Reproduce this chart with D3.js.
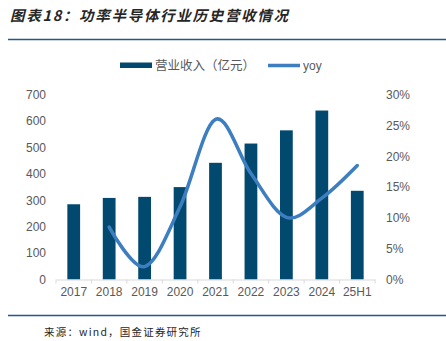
<!DOCTYPE html>
<html>
<head>
<meta charset="utf-8">
<script src="https://cdn.jsdelivr.net/npm/d3@7"></script>
<style>
  html, body { margin: 0; padding: 0; background: #fff; }
  svg { display: block; }
</style>
</head>
<body>
<svg id="chart" width="446" height="341"></svg>
<script>
// Power semiconductor industry revenue (亿元) and YoY growth
const years = ["2017", "2018", "2019", "2020", "2021", "2022", "2023", "2024", "25H1"];
const revenue = [285, 309, 313, 350, 442, 515, 565, 640, 336];
const yoyYears = ["2018", "2019", "2020", "2021", "2022", "2023", "2024", "25H1"];
const yoy = [0.085, 0.021, 0.118, 0.260, 0.172, 0.101, 0.132, 0.185];
const leftTicks = [0, 100, 200, 300, 400, 500, 600, 700];
const rightTicks = [0, 0.05, 0.10, 0.15, 0.20, 0.25, 0.30];

const svg = d3.select("#chart");
const barColor = "#02496f";
const lineColor = "#3d7ec1";
const textColor = "#595959";
const font = "'Liberation Sans', Arial, sans-serif";
const cjk = "'Noto Sans CJK SC', sans-serif";

// Title
svg.append("text")
  .attr("x", 10).attr("y", 21)
  .attr("font-family", cjk)
  .attr("font-size", 14.5)
  .attr("font-weight", "bold")
  .attr("font-style", "italic")
  .attr("letter-spacing", 1.7)
  .attr("fill", "#262626")
  .text("图表18：功率半导体行业历史营收情况");

// Rules above and below the chart
svg.append("line").attr("x1", 8).attr("x2", 446).attr("y1", 39.5).attr("y2", 39.5)
  .attr("stroke", "#1f5a86").attr("stroke-width", 1.5);
svg.append("line").attr("x1", 8).attr("x2", 446).attr("y1", 315.5).attr("y2", 315.5)
  .attr("stroke", "#1f5a86").attr("stroke-width", 1.5);

// Source note
svg.append("text")
  .attr("x", 44).attr("y", 335.5)
  .attr("font-family", cjk)
  .attr("font-size", 10.5)
  .attr("letter-spacing", 1.2)
  .attr("fill", "#262626")
  .text("来源：wind，国金证券研究所");

// Scales
const x = d3.scaleBand().domain(years).range([56, 375]).padding(0);
const yL = d3.scaleLinear().domain([0, 700]).range([279.5, 94.7]);
const yR = d3.scaleLinear().domain([0, 0.30]).range([279.5, 94.7]);
const barW = x.bandwidth() * 0.36;

// Left axis labels
const leftAxis = d3.axisLeft(yL).tickValues(leftTicks).tickSize(0).tickPadding(0);
const gL = svg.append("g").attr("transform", "translate(46,0)").call(leftAxis);
gL.select(".domain").remove();
gL.selectAll("text").attr("font-family", font).attr("font-size", 12).attr("fill", textColor);

// Right axis labels
const rightAxis = d3.axisRight(yR).tickValues(rightTicks).tickSize(0).tickPadding(0)
  .tickFormat(d3.format(".0%"));
const gR = svg.append("g").attr("transform", "translate(386,0)").call(rightAxis);
gR.select(".domain").remove();
gR.selectAll("text").attr("font-family", font).attr("font-size", 12).attr("fill", textColor);

// Bars
svg.append("g").selectAll("rect")
  .data(years.map((y, i) => ({ y, v: revenue[i] })))
  .join("rect")
  .attr("x", d => x(d.y) + (x.bandwidth() - barW) / 2)
  .attr("width", barW)
  .attr("y", d => yL(d.v))
  .attr("height", d => yL(0) - yL(d.v))
  .attr("fill", barColor);

// Category axis
const bottomAxis = d3.axisBottom(x).tickSize(0).tickPadding(8);
const gB = svg.append("g").attr("transform", `translate(0,${yL(0)})`).call(bottomAxis);
gB.select(".domain").attr("stroke", "#d9d9d9").attr("stroke-width", 1);
gB.selectAll("text").attr("font-family", font).attr("font-size", 12).attr("fill", textColor);
// boundary ticks between categories
svg.append("g").selectAll("line")
  .data(d3.range(years.length + 1))
  .join("line")
  .attr("x1", i => 56 + i * x.step()).attr("x2", i => 56 + i * x.step())
  .attr("y1", yL(0)).attr("y2", yL(0) + 4)
  .attr("stroke", "#d9d9d9").attr("stroke-width", 1);

// YoY line, smoothed
const line = d3.line()
  .x(d => x(d.y) + x.bandwidth() / 2)
  .y(d => yR(d.v))
  .curve(d3.curveCardinal.tension(0));
svg.append("path")
  .datum(yoyYears.map((y, i) => ({ y, v: yoy[i] })))
  .attr("d", line)
  .attr("fill", "none")
  .attr("stroke", lineColor)
  .attr("stroke-width", 3.5)
  .attr("stroke-linecap", "round");

// Legend
const lg = svg.append("g");
lg.append("rect").attr("x", 120).attr("y", 62.5).attr("width", 32).attr("height", 5.5).attr("fill", barColor);
lg.append("text").attr("x", 155).attr("y", 69.5)
  .attr("font-family", cjk).attr("font-size", 12.5).attr("fill", textColor)
  .text("营业收入（亿元）");
lg.append("line").attr("x1", 268).attr("x2", 300).attr("y1", 65.5).attr("y2", 65.5)
  .attr("stroke", lineColor).attr("stroke-width", 3.5);
lg.append("text").attr("x", 303).attr("y", 69.5)
  .attr("font-family", font).attr("font-size", 12).attr("fill", textColor)
  .text("yoy");
</script>
</body>
</html>
